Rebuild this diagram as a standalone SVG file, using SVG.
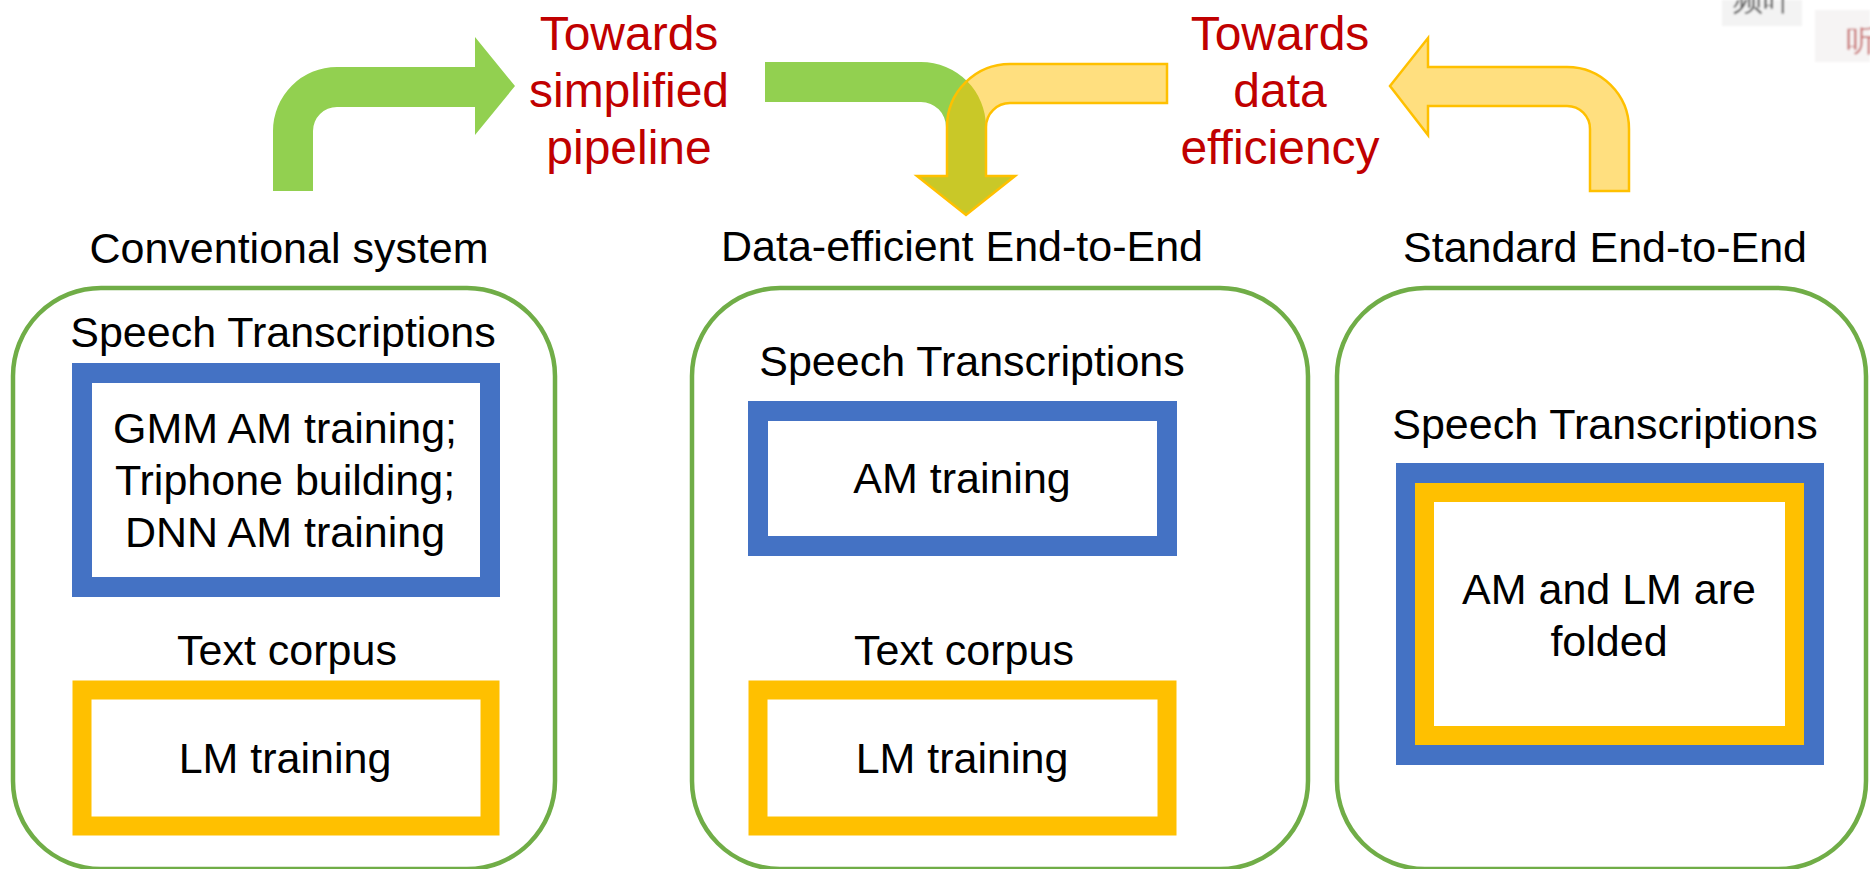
<svg xmlns="http://www.w3.org/2000/svg" width="1870" height="869" viewBox="0 0 1870 869">
  <style>
    text { font-family: "Liberation Sans", Arial, sans-serif; }
    .lbl { font-size: 43px; fill: #000; text-anchor: middle; }
    .red { font-size: 48px; fill: #C00000; text-anchor: middle; }
    .panel { fill: none; stroke: #70AD47; stroke-width: 4.5; }
    .am { fill: #fff; stroke: #4472C4; stroke-width: 20; }
    .lm { fill: #fff; stroke: #FFC000; stroke-width: 19; }
    .g-arrow { fill: #92D050; stroke: none; }
    .y-arrow { fill: #FFC000; fill-opacity: 0.5; stroke: #FFC000; stroke-width: 2.5; stroke-linejoin: miter; }
  </style>
  <defs>
    <filter id="soft" x="-20%" y="-20%" width="140%" height="140%">
      <feGaussianBlur stdDeviation="1.2"/>
    </filter>
  </defs>

  <rect width="1870" height="869" fill="#fff"/>

  <!-- overlay caption fragments in the top-right corner -->
  <g id="corner-overlay" filter="url(#soft)">
    <rect x="1722" y="0" width="80" height="26" fill="#f3f3f3"/>
    <rect x="1815" y="10" width="55" height="52" fill="#f6f4f4"/>
    <text x="1733" y="10" font-family="'Noto Sans CJK SC', sans-serif" font-size="30" fill="#555">频叶</text>
    <text x="1846" y="51" font-family="'Noto Sans CJK SC', sans-serif" font-size="30" fill="#c87070">听</text>
  </g>

  <!-- connectors: bent block arrows between the panels -->
  <g id="connectors">
    <!-- conventional -> data-efficient (upper left) -->
    <path class="g-arrow" d="M273,191 L273,131 A64,64 0 0 1 337,67 L475,67 L475,37 L515,86 L475,135 L475,107 L337,107 A24,24 0 0 0 313,131 L313,191 Z"/>
    <!-- conventional -> data-efficient (descending into middle panel) -->
    <path class="g-arrow" d="M765,62 L921,62 A65,65 0 0 1 986,127 L986,176 L1015,176 L966,215 L917,176 L946,176 L946,127 A25,25 0 0 0 921,102 L765,102 Z"/>
    <!-- standard -> data-efficient (upper right) -->
    <path class="y-arrow" d="M1629,191 L1629,129 A62,62 0 0 0 1567,67 L1428,67 L1428,38 L1390,86 L1428,135 L1428,106 L1567,106 A23,23 0 0 1 1590,129 L1590,191 Z"/>
    <!-- standard -> data-efficient (descending into middle panel) -->
    <path class="y-arrow" d="M1167,64 L1010,64 A63,63 0 0 0 947,127 L947,176 L917,176 L966,215 L1015,176 L986,176 L986,127 A24,24 0 0 1 1010,103 L1167,103 Z"/>
  </g>

  <!-- arrow captions -->
  <g id="caption-simplified">
    <text class="red" x="629" y="50">Towards</text>
    <text class="red" x="629" y="107">simplified</text>
    <text class="red" x="629" y="164">pipeline</text>
  </g>
  <g id="caption-efficiency">
    <text class="red" x="1280" y="50">Towards</text>
    <text class="red" x="1280" y="107">data</text>
    <text class="red" x="1280" y="164">efficiency</text>
  </g>

  <!-- panel 1: conventional system -->
  <g id="conventional">
    <text class="lbl" x="289" y="263">Conventional system</text>
    <rect class="panel" x="13" y="288" width="542" height="581" rx="88" ry="88"/>
    <text class="lbl" x="283" y="347">Speech Transcriptions</text>
    <rect class="am" x="82" y="373" width="408" height="214"/>
    <text class="lbl" x="285" y="443">GMM AM training;</text>
    <text class="lbl" x="285" y="495">Triphone building;</text>
    <text class="lbl" x="285" y="547">DNN AM training</text>
    <text class="lbl" x="287" y="665">Text corpus</text>
    <rect class="lm" x="82" y="690" width="408" height="136"/>
    <text class="lbl" x="285" y="773">LM training</text>
  </g>

  <!-- panel 2: data-efficient end-to-end -->
  <g id="data-efficient">
    <text class="lbl" x="962" y="261">Data-efficient End-to-End</text>
    <rect class="panel" x="692" y="288" width="616" height="581" rx="88" ry="88"/>
    <text class="lbl" x="972" y="376">Speech Transcriptions</text>
    <rect class="am" x="758" y="411" width="409" height="135"/>
    <text class="lbl" x="962" y="493">AM training</text>
    <text class="lbl" x="964" y="665">Text corpus</text>
    <rect class="lm" x="758" y="690" width="409" height="136"/>
    <text class="lbl" x="962" y="773">LM training</text>
  </g>

  <!-- panel 3: standard end-to-end -->
  <g id="standard">
    <text class="lbl" x="1605" y="262">Standard End-to-End</text>
    <rect class="panel" x="1337" y="288" width="529" height="581" rx="88" ry="88"/>
    <text class="lbl" x="1605" y="439">Speech Transcriptions</text>
    <rect class="am" x="1406" y="473" width="408" height="282"/>
    <rect class="lm" x="1424.5" y="492.5" width="370" height="243"/>
    <text class="lbl" x="1609" y="604">AM and LM are</text>
    <text class="lbl" x="1609" y="656">folded</text>
  </g>
</svg>
